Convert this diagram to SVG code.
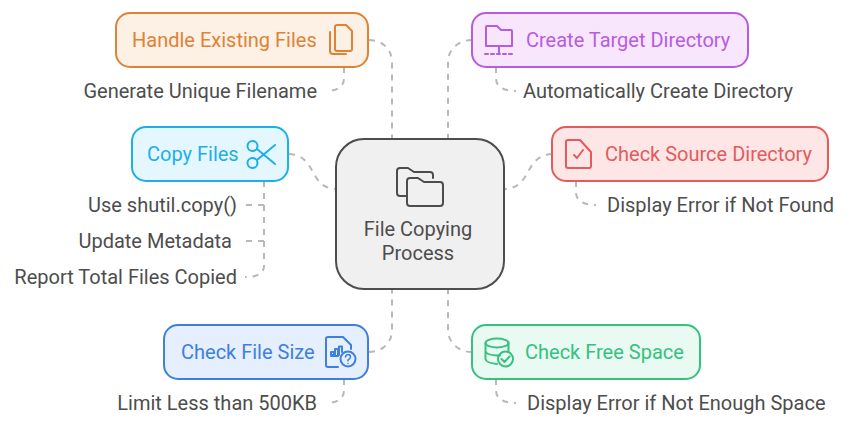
<svg xmlns="http://www.w3.org/2000/svg" width="852" height="427" viewBox="0 0 852 427">
<style>
text{font-family:Roboto,"Liberation Sans",sans-serif;font-size:20px}
.l{fill:#4d4d4d;text-anchor:end}
.ls{fill:#4d4d4d}
.box{stroke-width:2}
.c{fill:none;stroke:#b8b8b8;stroke-width:2;stroke-dasharray:6 6}
.i{fill:none;stroke-width:2;stroke-linecap:round;stroke-linejoin:round}
</style>
<rect width="852" height="427" fill="#fff"/>
<g id="connectors">
<path class="c" d="M369 40C383 40 392 50 392 62V139"/>
<path class="c" d="M472 40C458 40 448 50 448 62V139"/>
<path class="c" d="M289 154C318 156 308 188 336 189"/>
<path class="c" d="M552 154C523 156 533 188 504 189"/>
<path class="c" d="M369 352C383 352 392 342 392 330V289"/>
<path class="c" d="M472 352C458 352 448 342 448 330V289"/>
<path class="c" d="M344 67V78C344 86 338 91 326 91"/>
<path class="c" d="M496 67V78C496 86 502 91 516 91"/>
<path class="c" d="M264 181V266C264 273 258 277 245 277"/>
<path class="c" d="M264 205H246"/>
<path class="c" d="M264 241H246"/>
<path class="c" d="M576 181V192C576 200 582 205 596 205"/>
<path class="c" d="M344 379V390C344 398 338 403 326 403"/>
<path class="c" d="M496 379V390C496 398 502 403 516 403"/>
</g>
<g id="center">
<rect class="box" x="336" y="139" width="168" height="150" rx="28" fill="#f0f0f0" stroke="#4d4d4d"/>
<path class="i" stroke="#4d4d4d" d="M407 196H400Q397 196 397 193V171Q397 168 400 168H408L414 172H430Q433 172 433 175V178"/>
<path class="i" stroke="#4d4d4d" d="M410 178H418L424 182H440Q443 182 443 185V203Q443 206 440 206H410Q407 206 407 203V181Q407 178 410 178Z"/>
<text x="418" y="236" fill="#4d4d4d" text-anchor="middle">File Copying</text>
<text x="418" y="260" fill="#4d4d4d" text-anchor="middle">Process</text>
</g>
<g id="handle">
<rect class="box" x="116" y="13" width="252" height="54" rx="14" fill="#fdf0e5" stroke="#e08236"/>
<text x="132" y="47" fill="#e08236">Handle Existing Files</text>
<path class="i" stroke="#e08236" d="M337 25H346L352 31V49Q352 51 350 51H337Q335 51 335 49V27Q335 25 337 25Z"/>
<path class="i" stroke="#e08236" d="M330 32V51Q330 54 333 54H346"/>
<text class="l" x="317" y="98">Generate Unique Filename</text>
</g>
<g id="create">
<rect class="box" x="472" y="13" width="276" height="54" rx="14" fill="#f8e6fd" stroke="#b75ce0"/>
<path class="i" stroke="#b75ce0" d="M486 46V27Q486 26 487 26H497L501 30H511Q512 30 512 31V46Z"/>
<path class="i" stroke="#b75ce0" d="M499 46V54"/>
<path class="i" stroke="#b75ce0" stroke-dasharray="3 3" d="M485 54H513"/>
<text x="526" y="47" fill="#b75ce0">Create Target Directory</text>
<text class="ls" x="523" y="98">Automatically Create Directory</text>
</g>
<g id="copy">
<rect class="box" x="132" y="127" width="156" height="54" rx="14" fill="#e4f7fe" stroke="#1cb0e6"/>
<text x="147" y="161" fill="#1cb0e6">Copy Files</text>
<circle class="i" stroke="#1cb0e6" cx="252.500" cy="146" r="5"/>
<circle class="i" stroke="#1cb0e6" cx="252.500" cy="163" r="5"/>
<path class="i" stroke="#1cb0e6" d="M257 149L275 164M257 160L275 145"/>
<text class="l" x="237" y="212">Use shutil.copy()</text>
<text class="l" x="232" y="248">Update Metadata</text>
<text class="l" x="237" y="284">Report Total Files Copied</text>
</g>
<g id="source">
<rect class="box" x="552" y="127" width="276" height="54" rx="14" fill="#fee6e6" stroke="#e35b5b"/>
<path class="i" stroke="#e35b5b" d="M568 140H580L591 152V166Q591 168 589 168H568Q566 168 566 166V142Q566 140 568 140Z"/>
<path class="i" stroke="#e35b5b" d="M574 155L577 158L583 150"/>
<text x="605" y="161" fill="#e35b5b">Check Source Directory</text>
<text class="ls" x="607" y="212">Display Error if Not Found</text>
</g>
<g id="size">
<rect class="box" x="164" y="325" width="204" height="54" rx="14" fill="#e5effd" stroke="#3f7fe0"/>
<text x="181" y="359" fill="#3f7fe0">Check File Size</text>
<path class="i" stroke="#3f7fe0" d="M338 367H328Q326 367 326 365V339Q326 337 328 337H343L351 345V349"/>
<path class="i" stroke="#3f7fe0" d="M331 355V352H334V355H331ZM335 355V349H338V355M339 355V346.500H342V352M331 356H338"/>
<circle class="i" stroke="#3f7fe0" cx="348" cy="359" r="7.500"/>
<path stroke="#3f7fe0" stroke-width="1.500" fill="none" stroke-linecap="round" d="M345.500 357Q346 354.500 348 354.500Q350.500 354.500 350.500 357Q350.500 358.500 348 360V361M348 363.500V363.600"/>
<text class="l" x="317" y="410">Limit Less than 500KB</text>
</g>
<g id="free">
<rect class="box" x="472" y="325" width="228" height="54" rx="14" fill="#e8faf2" stroke="#36c17f"/>
<ellipse class="i" stroke="#36c17f" cx="497" cy="343" rx="11.500" ry="4.500"/>
<path class="i" stroke="#36c17f" d="M485.500 343V359Q486 363 497 364M485.500 351Q486 355 497 355.500H500M508.500 343V351"/>
<circle class="i" stroke="#36c17f" cx="505.500" cy="359" r="7.500"/>
<path class="i" stroke="#36c17f" d="M501.500 359L504.500 362L509.500 356.500"/>
<text x="525" y="359" fill="#36c17f">Check Free Space</text>
<text class="ls" x="527" y="410">Display Error if Not Enough Space</text>
</g>
</svg>
